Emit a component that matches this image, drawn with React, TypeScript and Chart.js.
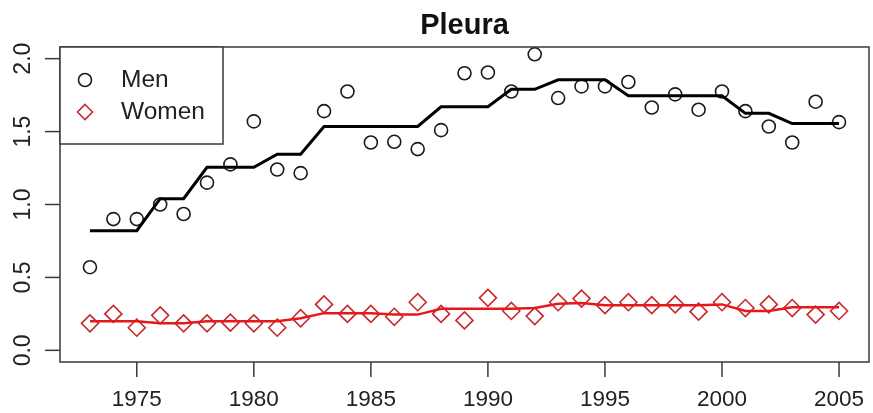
import React, { useEffect, useRef } from "react";
import { Chart, registerables } from "chart.js";

Chart.register(...registerables);

const years = [1973,1974,1975,1976,1977,1978,1979,1980,1981,1982,1983,1984,1985,1986,1987,1988,1989,1990,1991,1992,1993,1994,1995,1996,1997,1998,1999,2000,2001,2002,2003,2004,2005];
const menObs = [0.57,0.90,0.90,1.00,0.935,1.15,1.275,1.57,1.24,1.215,1.64,1.775,1.425,1.43,1.38,1.51,1.90,1.905,1.775,2.03,1.73,1.81,1.81,1.84,1.665,1.755,1.65,1.775,1.64,1.535,1.425,1.705,1.565];
const menFit = [0.82,0.82,0.82,1.04,1.04,1.255,1.255,1.255,1.345,1.345,1.535,1.535,1.535,1.535,1.535,1.67,1.67,1.67,1.79,1.79,1.855,1.855,1.855,1.745,1.745,1.745,1.745,1.745,1.625,1.625,1.555,1.555,1.555];
const womenObs = [0.185,0.25,0.155,0.24,0.185,0.185,0.19,0.185,0.155,0.22,0.315,0.25,0.25,0.23,0.33,0.25,0.205,0.36,0.27,0.235,0.33,0.355,0.31,0.33,0.31,0.315,0.265,0.33,0.29,0.315,0.29,0.245,0.27];
const womenFit = [0.20,0.20,0.20,0.185,0.185,0.20,0.20,0.20,0.20,0.22,0.255,0.255,0.255,0.245,0.245,0.285,0.285,0.285,0.285,0.29,0.32,0.325,0.31,0.31,0.31,0.31,0.31,0.315,0.27,0.27,0.295,0.295,0.295];
const xTicks = [1975,1980,1985,1990,1995,2000,2005];
const yTicks = [0,0.5,1,1.5,2];
const legendLabels = ["Men", "Women"];
const titleText = "Pleura";

const FONT = '"Liberation Sans", Arial, sans-serif';
const MEN_COL = "#1a1a1a";
const WOMEN_PT = "#c9282b";
const WOMEN_LINE = "#e3191c";

const rFrame = {
  id: "rFrame",
  afterDraw(chart: any) {
    const { ctx, chartArea: a, scales } = chart;
    const x = scales.x, y = scales.y;
    ctx.save();
    ctx.strokeStyle = "#3a3a3a";
    ctx.lineWidth = 1.5;
    ctx.strokeRect(a.left, a.top, a.right - a.left, a.bottom - a.top);
    ctx.fillStyle = "#222";
    ctx.font = `22.5px ${FONT}`;
    ctx.textAlign = "center";
    ctx.textBaseline = "middle";
    // x axis
    for (const v of xTicks) {
      const px = x.getPixelForValue(v);
      ctx.beginPath();
      ctx.moveTo(px, a.bottom);
      ctx.lineTo(px, a.bottom + 15);
      ctx.stroke();
      ctx.fillText(String(v), px, a.bottom + 38);
    }
    // y axis
    ctx.font = `23px ${FONT}`;
    for (const v of yTicks) {
      const py = y.getPixelForValue(v);
      ctx.beginPath();
      ctx.moveTo(a.left - 15, py);
      ctx.lineTo(a.left, py);
      ctx.stroke();
      ctx.save();
      ctx.translate(24, py);
      ctx.rotate(-Math.PI / 2);
      ctx.fillText(v.toFixed(1), 0, 0);
      ctx.restore();
    }
    // legend
    const lx = a.left, ly = a.top, lw = 163, lh = 97;
    ctx.fillStyle = "#fff";
    ctx.fillRect(lx, ly, lw, lh);
    ctx.strokeStyle = "#3a3a3a";
    ctx.lineWidth = 1.5;
    ctx.strokeRect(lx, ly, lw, lh);
    ctx.font = `24.5px ${FONT}`;
    ctx.textAlign = "left";
    ctx.fillStyle = "#222";
    // Men symbol
    ctx.beginPath();
    ctx.arc(lx + 25, ly + 33, 6.5, 0, Math.PI * 2);
    ctx.strokeStyle = MEN_COL;
    ctx.lineWidth = 1.6;
    ctx.stroke();
    ctx.fillText(legendLabels[0], lx + 61, ly + 33);
    // Women symbol
    const cx = lx + 25, cy = ly + 65, r = 7.5;
    ctx.beginPath();
    ctx.moveTo(cx, cy - r);
    ctx.lineTo(cx + r, cy);
    ctx.lineTo(cx, cy + r);
    ctx.lineTo(cx - r, cy);
    ctx.closePath();
    ctx.strokeStyle = WOMEN_PT;
    ctx.stroke();
    ctx.fillText(legendLabels[1], lx + 61, ly + 65);
    ctx.restore();
  },
};

export default function App() {
  const ref = useRef<HTMLCanvasElement>(null);
  useEffect(() => {
    if (!ref.current) return;
    const chart = new Chart(ref.current, {
      type: "line",
      data: {
        labels: years,
        datasets: [
          {
            label: "Men fit",
            data: years.map((yr, i) => ({ x: yr, y: menFit[i] })),
            borderColor: "#000",
            borderWidth: 3,
            pointRadius: 0,
            tension: 0,
            fill: false,
          },
          {
            label: "Women fit",
            data: years.map((yr, i) => ({ x: yr, y: womenFit[i] })),
            borderColor: WOMEN_LINE,
            borderWidth: 2.5,
            pointRadius: 0,
            tension: 0,
            fill: false,
          },
          {
            label: "Men",
            data: years.map((yr, i) => ({ x: yr, y: menObs[i] })),
            showLine: false,
            pointStyle: "circle",
            pointRadius: 6.5,
            pointBorderWidth: 1.6,
            pointBorderColor: MEN_COL,
            pointBackgroundColor: "rgba(0,0,0,0)",
            borderColor: MEN_COL,
          },
          {
            label: "Women",
            data: years.map((yr, i) => ({ x: yr, y: womenObs[i] })),
            showLine: false,
            pointStyle: "rectRot",
            pointRadius: 8.5,
            pointBorderWidth: 1.6,
            pointBorderColor: WOMEN_PT,
            pointBackgroundColor: "rgba(0,0,0,0)",
            borderColor: WOMEN_PT,
          },
        ],
      },
      options: {
        animation: false,
        responsive: false,
        devicePixelRatio: 1,
        layout: { autoPadding: false, padding: { left: 60, right: 4, top: 0, bottom: 51 } },
        scales: {
          x: { type: "linear", min: 1971.72, max: 2006.28, display: false },
          y: { type: "linear", min: -0.08, max: 2.08, display: false },
        },
        plugins: {
          legend: { display: false },
          tooltip: { enabled: false },
          title: {
            display: true,
            text: titleText,
            color: "#111",
            font: { family: FONT, size: 29, weight: "bold", lineHeight: 1.2 },
            padding: { top: 8.5, bottom: 3.7 },
          },
        },
      },
      plugins: [rFrame],
    });
    return () => chart.destroy();
  }, []);
  return (
    <div style={{ position: "absolute", left: 0, top: 0, width: 873, height: 413, background: "#fff" }}>
      <canvas ref={ref} width={873} height={413} />
    </div>
  );
}
